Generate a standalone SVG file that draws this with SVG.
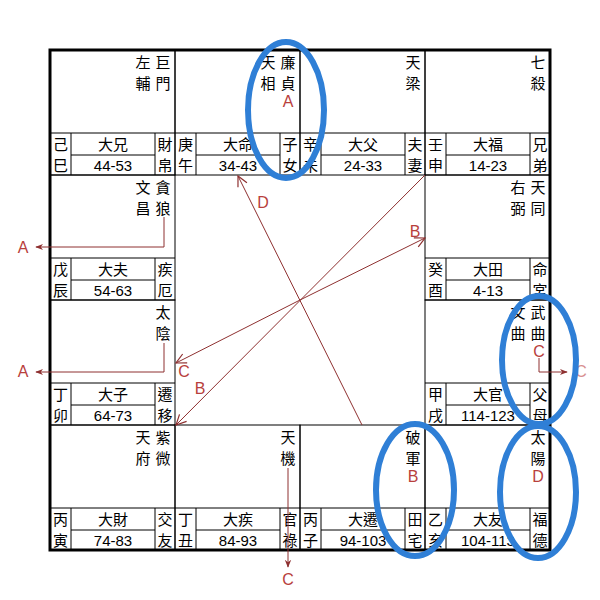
<svg xmlns="http://www.w3.org/2000/svg" width="600" height="600" viewBox="0 0 600 600">
<style>
.bg{fill:#ffffff}
.cell{fill:none;stroke:#000;stroke-width:1}
.ln{stroke:#000;stroke-width:1}
.cj{font-family:"Noto Sans CJK TC","Noto Sans CJK SC",sans-serif;font-size:15px;fill:#000;text-anchor:middle}
.num{font-family:"Liberation Sans",Arial,sans-serif;font-size:15px;fill:#000;text-anchor:middle}
.red{font-family:"Liberation Sans",Arial,sans-serif;font-size:16px;fill:#b8403c;text-anchor:middle}
.conn{stroke:#8e3030;stroke-width:1;fill:none}
.ring{fill:none;stroke:#2f7fd6;stroke-width:6}
</style>
<defs>
<marker id="open" viewBox="0 0 12 12" refX="11" refY="6" markerWidth="12" markerHeight="12" markerUnits="userSpaceOnUse" orient="auto">
<path d="M1,1 L11,6 L1,11" fill="none" stroke="#8e3030" stroke-width="1.2"/>
</marker>
<marker id="small" viewBox="0 0 10 10" refX="9" refY="5" markerWidth="8" markerHeight="8" markerUnits="userSpaceOnUse" orient="auto">
<path d="M0,1 L10,5 L0,9 L3,5 Z" fill="#8e3030"/>
</marker>
</defs>
<rect class="bg" x="0" y="0" width="600" height="600"/>

<g id="cell-si" transform="translate(50,50)">
<rect class="cell" x="0" y="0" width="125" height="125"/>
<line class="ln" x1="0" y1="83" x2="125" y2="83"/><line class="ln" x1="21" y1="83" x2="21" y2="125"/><line class="ln" x1="105" y1="83" x2="105" y2="125"/><line class="ln" x1="21" y1="105" x2="105" y2="105"/>
<text class="cj" x="113" y="18">巨</text><text class="cj" x="113" y="39">門</text>
<text class="cj" x="93" y="18">左</text><text class="cj" x="93" y="39">輔</text>
<text class="cj" x="10.5" y="100">己</text><text class="cj" x="10.5" y="121">巳</text>
<text class="cj" x="63" y="100">大兄</text><text class="num" x="63" y="121">44-53</text>
<text class="cj" x="115" y="100">財</text><text class="cj" x="115" y="121">帛</text>
</g>

<g id="cell-wu" transform="translate(175,50)">
<rect class="cell" x="0" y="0" width="125" height="125"/>
<line class="ln" x1="0" y1="83" x2="125" y2="83"/><line class="ln" x1="21" y1="83" x2="21" y2="125"/><line class="ln" x1="105" y1="83" x2="105" y2="125"/><line class="ln" x1="21" y1="105" x2="105" y2="105"/>
<text class="cj" x="113" y="18">廉</text><text class="cj" x="113" y="39">貞</text>
<text class="cj" x="93" y="18">天</text><text class="cj" x="93" y="39">相</text>
<text class="red" x="113" y="57">A</text>
<text class="cj" x="10.5" y="100">庚</text><text class="cj" x="10.5" y="121">午</text>
<text class="cj" x="63" y="100">大命</text><text class="num" x="63" y="121">34-43</text>
<text class="cj" x="115" y="100">子</text><text class="cj" x="115" y="121">女</text>
</g>

<g id="cell-wei" transform="translate(300,50)">
<rect class="cell" x="0" y="0" width="125" height="125"/>
<line class="ln" x1="0" y1="83" x2="125" y2="83"/><line class="ln" x1="21" y1="83" x2="21" y2="125"/><line class="ln" x1="105" y1="83" x2="105" y2="125"/><line class="ln" x1="21" y1="105" x2="105" y2="105"/>
<text class="cj" x="113" y="18">天</text><text class="cj" x="113" y="39">梁</text>
<text class="cj" x="10.5" y="100">辛</text><text class="cj" x="10.5" y="121">未</text>
<text class="cj" x="63" y="100">大父</text><text class="num" x="63" y="121">24-33</text>
<text class="cj" x="115" y="100">夫</text><text class="cj" x="115" y="121">妻</text>
</g>

<g id="cell-shen" transform="translate(425,50)">
<rect class="cell" x="0" y="0" width="125" height="125"/>
<line class="ln" x1="0" y1="83" x2="125" y2="83"/><line class="ln" x1="21" y1="83" x2="21" y2="125"/><line class="ln" x1="105" y1="83" x2="105" y2="125"/><line class="ln" x1="21" y1="105" x2="105" y2="105"/>
<text class="cj" x="113" y="18">七</text><text class="cj" x="113" y="39">殺</text>
<text class="cj" x="10.5" y="100">壬</text><text class="cj" x="10.5" y="121">申</text>
<text class="cj" x="63" y="100">大福</text><text class="num" x="63" y="121">14-23</text>
<text class="cj" x="115" y="100">兄</text><text class="cj" x="115" y="121">弟</text>
</g>

<g id="cell-you" transform="translate(425,175)">
<rect class="cell" x="0" y="0" width="125" height="125"/>
<line class="ln" x1="0" y1="83" x2="125" y2="83"/><line class="ln" x1="21" y1="83" x2="21" y2="125"/><line class="ln" x1="105" y1="83" x2="105" y2="125"/><line class="ln" x1="21" y1="105" x2="105" y2="105"/>
<text class="cj" x="113" y="18">天</text><text class="cj" x="113" y="39">同</text>
<text class="cj" x="93" y="18">右</text><text class="cj" x="93" y="39">弼</text>
<text class="cj" x="10.5" y="100">癸</text><text class="cj" x="10.5" y="121">酉</text>
<text class="cj" x="63" y="100">大田</text><text class="num" x="63" y="121">4-13</text>
<text class="cj" x="115" y="100">命</text><text class="cj" x="115" y="121">宮</text>
</g>

<g id="cell-xu" transform="translate(425,300)">
<rect class="cell" x="0" y="0" width="125" height="125"/>
<line class="ln" x1="0" y1="83" x2="125" y2="83"/><line class="ln" x1="21" y1="83" x2="21" y2="125"/><line class="ln" x1="105" y1="83" x2="105" y2="125"/><line class="ln" x1="21" y1="105" x2="105" y2="105"/>
<text class="cj" x="113" y="18">武</text><text class="cj" x="113" y="39">曲</text>
<text class="cj" x="93" y="18">文</text><text class="cj" x="93" y="39">曲</text>
<text class="red" x="114" y="57">C</text>
<text class="cj" x="10.5" y="100">甲</text><text class="cj" x="10.5" y="121">戌</text>
<text class="cj" x="63" y="100">大官</text><text class="num" x="63" y="121">114-123</text>
<text class="cj" x="115" y="100">父</text><text class="cj" x="115" y="121">母</text>
</g>

<g id="cell-hai" transform="translate(425,425)">
<rect class="cell" x="0" y="0" width="125" height="125"/>
<line class="ln" x1="0" y1="83" x2="125" y2="83"/><line class="ln" x1="21" y1="83" x2="21" y2="125"/><line class="ln" x1="105" y1="83" x2="105" y2="125"/><line class="ln" x1="21" y1="105" x2="105" y2="105"/>
<text class="cj" x="113" y="18">太</text><text class="cj" x="113" y="39">陽</text>
<text class="red" x="113" y="57">D</text>
<text class="cj" x="10.5" y="100">乙</text><text class="cj" x="10.5" y="121">亥</text>
<text class="cj" x="63" y="100">大友</text><text class="num" x="63" y="121">104-113</text>
<text class="cj" x="115" y="100">福</text><text class="cj" x="115" y="121">德</text>
</g>

<g id="cell-zi" transform="translate(300,425)">
<rect class="cell" x="0" y="0" width="125" height="125"/>
<line class="ln" x1="0" y1="83" x2="125" y2="83"/><line class="ln" x1="21" y1="83" x2="21" y2="125"/><line class="ln" x1="105" y1="83" x2="105" y2="125"/><line class="ln" x1="21" y1="105" x2="105" y2="105"/>
<text class="cj" x="113" y="18">破</text><text class="cj" x="113" y="39">軍</text>
<text class="red" x="113" y="57">B</text>
<text class="cj" x="10.5" y="100">丙</text><text class="cj" x="10.5" y="121">子</text>
<text class="cj" x="63" y="100">大遷</text><text class="num" x="63" y="121">94-103</text>
<text class="cj" x="115" y="100">田</text><text class="cj" x="115" y="121">宅</text>
</g>

<g id="cell-chou" transform="translate(175,425)">
<rect class="cell" x="0" y="0" width="125" height="125"/>
<line class="ln" x1="0" y1="83" x2="125" y2="83"/><line class="ln" x1="21" y1="83" x2="21" y2="125"/><line class="ln" x1="105" y1="83" x2="105" y2="125"/><line class="ln" x1="21" y1="105" x2="105" y2="105"/>
<text class="cj" x="113" y="18">天</text><text class="cj" x="113" y="39">機</text>
<text class="cj" x="10.5" y="100">丁</text><text class="cj" x="10.5" y="121">丑</text>
<text class="cj" x="63" y="100">大疾</text><text class="num" x="63" y="121">84-93</text>
<text class="cj" x="115" y="100">官</text><text class="cj" x="115" y="121">祿</text>
</g>

<g id="cell-yin" transform="translate(50,425)">
<rect class="cell" x="0" y="0" width="125" height="125"/>
<line class="ln" x1="0" y1="83" x2="125" y2="83"/><line class="ln" x1="21" y1="83" x2="21" y2="125"/><line class="ln" x1="105" y1="83" x2="105" y2="125"/><line class="ln" x1="21" y1="105" x2="105" y2="105"/>
<text class="cj" x="113" y="18">紫</text><text class="cj" x="113" y="39">微</text>
<text class="cj" x="93" y="18">天</text><text class="cj" x="93" y="39">府</text>
<text class="cj" x="10.5" y="100">丙</text><text class="cj" x="10.5" y="121">寅</text>
<text class="cj" x="63" y="100">大財</text><text class="num" x="63" y="121">74-83</text>
<text class="cj" x="115" y="100">交</text><text class="cj" x="115" y="121">友</text>
</g>

<g id="cell-mao" transform="translate(50,300)">
<rect class="cell" x="0" y="0" width="125" height="125"/>
<line class="ln" x1="0" y1="83" x2="125" y2="83"/><line class="ln" x1="21" y1="83" x2="21" y2="125"/><line class="ln" x1="105" y1="83" x2="105" y2="125"/><line class="ln" x1="21" y1="105" x2="105" y2="105"/>
<text class="cj" x="113" y="18">太</text><text class="cj" x="113" y="39">陰</text>
<text class="cj" x="10.5" y="100">丁</text><text class="cj" x="10.5" y="121">卯</text>
<text class="cj" x="63" y="100">大子</text><text class="num" x="63" y="121">64-73</text>
<text class="cj" x="115" y="100">遷</text><text class="cj" x="115" y="121">移</text>
</g>

<g id="cell-chen" transform="translate(50,175)">
<rect class="cell" x="0" y="0" width="125" height="125"/>
<line class="ln" x1="0" y1="83" x2="125" y2="83"/><line class="ln" x1="21" y1="83" x2="21" y2="125"/><line class="ln" x1="105" y1="83" x2="105" y2="125"/><line class="ln" x1="21" y1="105" x2="105" y2="105"/>
<text class="cj" x="113" y="18">貪</text><text class="cj" x="113" y="39">狼</text>
<text class="cj" x="93" y="18">文</text><text class="cj" x="93" y="39">昌</text>
<text class="cj" x="10.5" y="100">戊</text><text class="cj" x="10.5" y="121">辰</text>
<text class="cj" x="63" y="100">大夫</text><text class="num" x="63" y="121">54-63</text>
<text class="cj" x="115" y="100">疾</text><text class="cj" x="115" y="121">厄</text>
</g>

<rect id="frame" x="50" y="50" width="500" height="500" fill="none" stroke="#000" stroke-width="3"/>

<g id="connectors">
<line class="conn" x1="362" y1="425" x2="238" y2="176" marker-end="url(#open)"/>
<line class="conn" x1="425" y1="175" x2="176" y2="425" marker-end="url(#open)"/>
<line class="conn" x1="300" y1="300" x2="425" y2="238" marker-end="url(#open)"/>
<line class="conn" x1="300" y1="300" x2="176" y2="363" marker-end="url(#open)"/>
<polyline class="conn" points="164,217 164,247 36,247" marker-end="url(#small)"/>
<polyline class="conn" points="164,343 164,372 36,372" marker-end="url(#small)"/>
<polyline class="conn" points="539,358 539,372 567,372" marker-end="url(#small)"/>
<line class="conn" x1="288" y1="468" x2="288" y2="567" marker-end="url(#small)"/>
<text class="red" x="263" y="208">D</text>
<text class="red" x="415" y="237">B</text>
<text class="red" x="184" y="377">C</text>
<text class="red" x="200" y="394">B</text>
<text class="red" x="23" y="253">A</text>
<text class="red" x="23" y="377">A</text>
<text class="red" x="581" y="377" style="fill:#d89090">C</text>
<text class="red" x="288" y="585">C</text>
</g>

<g id="highlights">
<ellipse class="ring" cx="286" cy="110" rx="38" ry="68"/>
<ellipse class="ring" cx="539" cy="360" rx="37" ry="64"/>
<ellipse class="ring" cx="415" cy="490" rx="39" ry="66"/>
<ellipse class="ring" cx="538" cy="492" rx="38" ry="66"/>
</g>
</svg>
